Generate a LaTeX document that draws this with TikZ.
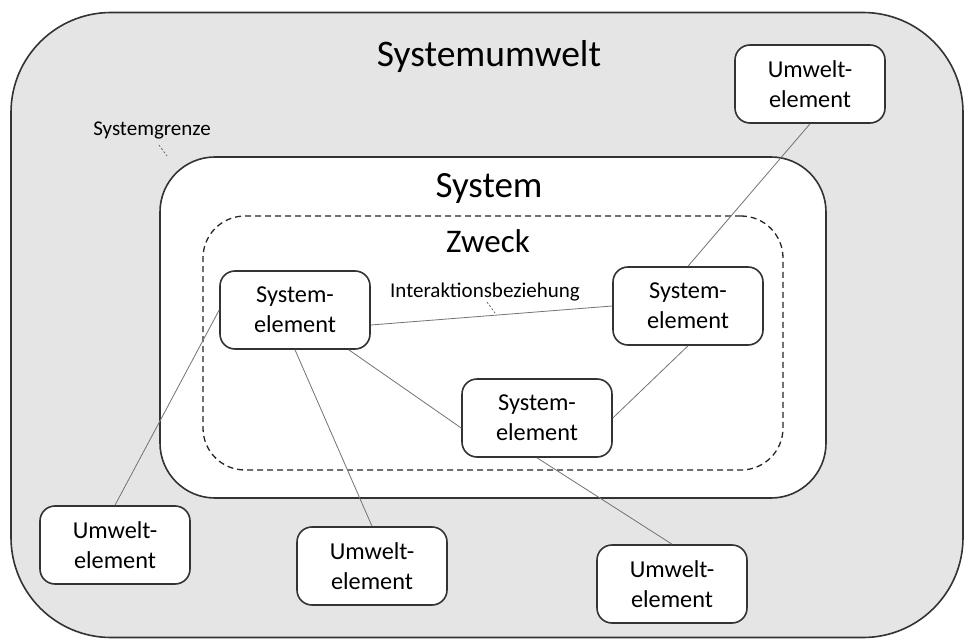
\documentclass[tikz,border=0pt]{standalone}
\usepackage{fontspec}
\setmainfont{Carlito}
\begin{document}
\begin{tikzpicture}[x=1pt,y=-1pt,
  frame/.style={draw=black!80,line width=1.6pt},
  elem/.style={frame,fill=white,rounded corners=15pt,minimum width=150pt,
    minimum height=78pt,inner sep=0pt,align=center,
    font=\fontsize{24.3}{30}\selectfont},
  link/.style={draw=black!55,line width=0.8pt},
  tick/.style={draw=black!60,line width=0.8pt,dash pattern=on 2pt off 2pt},
  title/.style={inner sep=0pt}]
\useasboundingbox (0,0) rectangle (964,639);

% environment, system and purpose frames
\node[frame,fill=black!10,rounded corners=100pt,minimum width=952pt,minimum height=625pt] (umwelt) at (487,325) {};
\node[frame,fill=white,rounded corners=55pt,minimum width=666pt,minimum height=341pt] (system) at (493,327.5) {};
\node[draw=black!85,line width=1.3pt,dash pattern=on 6pt off 4pt,rounded corners=42pt,minimum width=580pt,minimum height=254pt] (zweckbox) at (493,343) {};

% titles
\node[title,font=\fontsize{37.5}{42}\selectfont] (tumwelt) at (489,57) {Systemumwelt};
\node[title,font=\fontsize{37}{42}\selectfont] (tsystem) at (489,188) {System};
\node[title,font=\fontsize{33}{38}\selectfont] (tzweck) at (488,241) {Zweck};

% small annotations with dashed pointers
\node[title,font=\fontsize{21}{25}\selectfont] (grenze) at (152,130) {Systemgrenze};
\coordinate (g1) at (159,145);
\coordinate (g2) at (167,156);
\draw[tick] (g1) -- (g2);
\node[title,font=\fontsize{21}{25}\selectfont] (inter) at (485,292) {Interaktionsbeziehung};
\coordinate (i1) at (487,302);
\coordinate (i2) at (495,313);
\draw[tick] (i1) -- (i2);

% system elements
\node[elem] (se1) at (295,310) {System-\\element};
\node[elem] (se2) at (688,306) {System-\\element};
\node[elem] (se3) at (537,418) {System-\\element};

% environment elements
\node[elem] (ue1) at (810,84) {Umwelt-\\element};
\node[elem] (ue2) at (115,545) {Umwelt-\\element};
\node[elem] (ue3) at (372,566) {Umwelt-\\element};
\node[elem] (ue4) at (672,584) {Umwelt-\\element};

% interactions
\path[link] (ue1.south) -- (se2.north);
\path[link] ([yshift=-15pt]se1.east) -- (se2.west);
\path[link] ([xshift=-22pt]se1.south east) -- ([yshift=-10pt]se3.west);
\path[link] (se2.south) -- (se3.east);
\path[link] (se1.west) -- (ue2.north);
\path[link] (se1.south) -- (ue3.north);
\path[link] (se3.south) -- (ue4.north);
\end{tikzpicture}
\end{document}
